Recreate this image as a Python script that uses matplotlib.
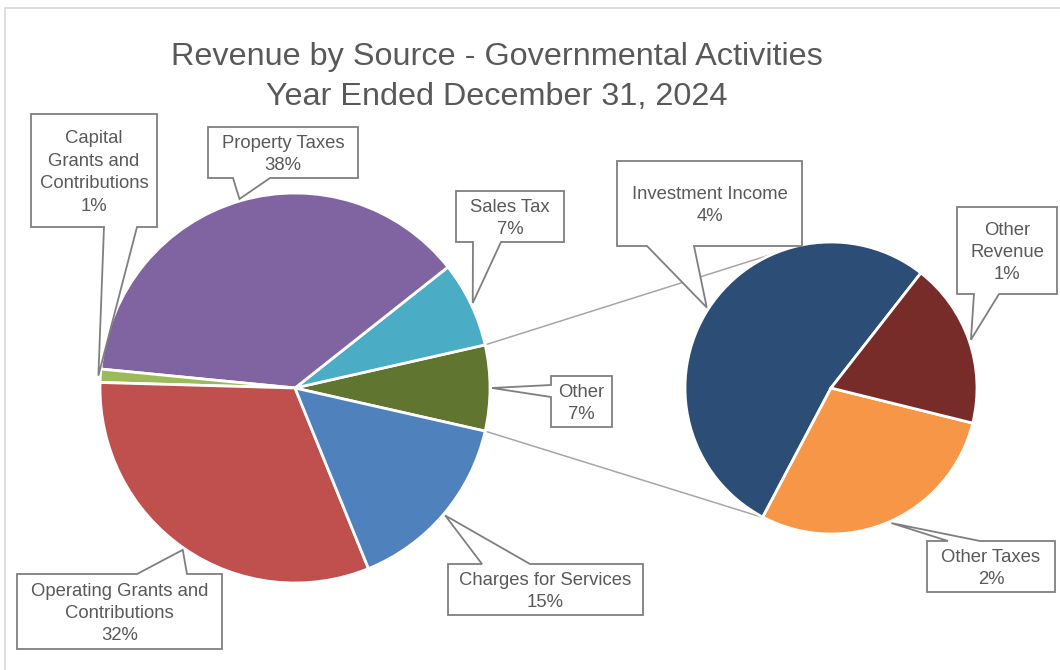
import numpy as np
import matplotlib
matplotlib.use("Agg")
import matplotlib.pyplot as plt
from matplotlib.patches import Polygon

plt.rcParams['font.family'] = ['Liberation Sans', 'DejaVu Sans']

# main pie, "Other" is split out into the second pie
main_labels = ["Other", "Sales Tax", "Property Taxes", "Capital\nGrants and\nContributions",
               "Operating Grants and\nContributions", "Charges for Services"]
main_values = [7.1, 7.1, 37.8, 1.1, 31.6, 15.3]
main_colors = ["#5F7530", "#4BACC6", "#8064A2", "#9BBB59", "#C0504D", "#4F81BD"]

other_labels = ["Investment Income", "Other Taxes", "Other\nRevenue"]
other_values = [3.75, 2.05, 1.3]
other_colors = ["#2C4D75", "#F79646", "#772C2A"]

TEXT = "#595959"
W, H = 1060, 670

fig = plt.figure(figsize=(W / 100, H / 100), dpi=100)
ax = fig.add_axes([0, 0, 1, 1])

# chart border
ax.plot([4.5, 4.5, W + 5], [-5, H - 8, H - 8], color="#D9D9D9", lw=1.2)

wp = dict(edgecolor="white", linewidth=2)
main_wedges, _ = ax.pie(main_values, colors=main_colors, center=(295, 282), radius=195,
                        startangle=-main_values[0] * 3.6 / 2, counterclock=True,
                        wedgeprops=wp, frame=True)
other_wedges, _ = ax.pie(other_values, colors=other_colors, center=(831, 282), radius=146,
                         startangle=52, counterclock=True, wedgeprops=wp, frame=True)
ax.set_xlim(0, W)
ax.set_ylim(0, H)
ax.set_aspect("equal")
ax.axis("off")


def on_edge(w, ang, extra=0.0):
    cx, cy = w.center
    a = np.radians(ang)
    return cx + (w.r + extra) * np.cos(a), cy + (w.r + extra) * np.sin(a)


# connector lines between the two pies
ow = main_wedges[0]
sw = other_wedges[0]
for a_from, a_to in [(ow.theta2, 102), (ow.theta1, 243)]:
    x0, y0 = on_edge(ow, a_from)
    x1, y1 = on_edge(sw, a_to)
    ax.plot([x0, x1], [y0, y1], color="#A6A6A6", lw=1.1, zorder=0.5)


def callout(w, box, side, base, text):
    L, R, B, T = box
    tip = on_edge(w, (w.theta1 + w.theta2) / 2, 2)
    a, b = base
    if side == "top":
        pts = [(L, T), (a, T), tip, (b, T), (R, T), (R, B), (L, B)]
    elif side == "bottom":
        pts = [(L, T), (R, T), (R, B), (b, B), tip, (a, B), (L, B)]
    else:  # left
        pts = [(L, T), (R, T), (R, B), (L, B), (L, a), tip, (L, b)]
    ax.add_patch(Polygon(pts, closed=True, facecolor="white", edgecolor="#7F7F7F",
                         lw=1.3, zorder=5))
    ax.text((L + R) / 2, (B + T) / 2 - 2, text, ha="center", va="center", color=TEXT,
            fontsize=13.3, linespacing=1.42, zorder=6)


def pct(v):
    return f"{v:.0f}%"


main_boxes = [
    ((551, 612, 243, 294), "left", (273, 285)),
    ((456, 564, 428, 479), "bottom", (473, 501)),
    ((208, 358, 492, 543), "bottom", (233, 270)),
    ((31, 157, 443, 556), "bottom", (104, 137)),
    ((17, 222, 21, 96), "top", (137, 187)),
    ((448, 643, 55, 106), "top", (482, 530)),
]
for w, lab, v, (box, side, base) in zip(main_wedges, main_labels, main_values, main_boxes):
    callout(w, box, side, base, f"{lab}\n{pct(v)}")

other_boxes = [
    ((617, 802, 424, 509), "bottom", (647, 694)),
    ((927, 1055, 78, 129), "top", (948, 980)),
    ((957, 1057, 376, 463), "bottom", (974, 999)),
]
for w, lab, v, (box, side, base) in zip(other_wedges, other_labels, other_values, other_boxes):
    callout(w, box, side, base, f"{lab}\n{pct(v)}")

fig.text(497 / W, 1 - 57 / H, "Revenue by Source - Governmental Activities",
         ha="center", va="center", fontsize=23.3, color=TEXT)
fig.text(497 / W, 1 - 97 / H, "Year Ended December 31, 2024",
         ha="center", va="center", fontsize=23.3, color=TEXT)

fig.savefig("out.png", dpi=100, facecolor="white")
